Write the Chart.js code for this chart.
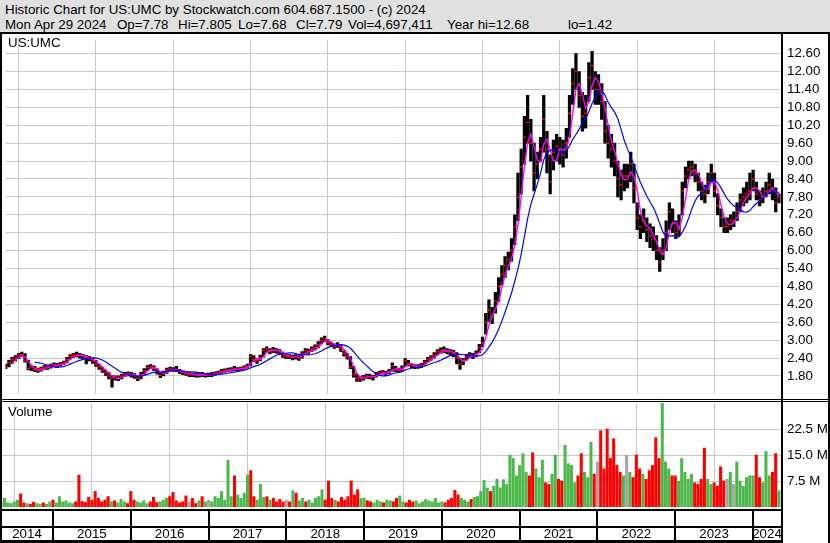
<!DOCTYPE html>
<html>
<head>
<meta charset="utf-8">
<title>US:UMC historic chart</title>
<script src="https://cdn.jsdelivr.net/npm/chart.js@4.4.1/dist/chart.umd.min.js"></script>
<style>
  body { margin: 0; background: #fff; }
  #wrap { position: relative; width: 830px; height: 543px; overflow: hidden;
          font-family: "Liberation Sans", Arial, sans-serif; color: #000; }
  #head { position: absolute; left: 0; top: 0; width: 830px; height: 34px; box-sizing: border-box;
          background: #e0e0e0; border-bottom: 2px solid #000; font-size: 13.33px; line-height: 15px; }
  #head span { position: absolute; white-space: pre; }
  canvas { position: absolute; left: 0; }
  #priceChart { top: 34px; }
  #volChart { top: 399px; }
  .tag { position: absolute; left: 8px; font-size: 13.33px; }
</style>
</head>
<body>
<div id="wrap">
  <div id="head">
    <span style="left:5px;top:2px">Historic Chart for US:UMC by Stockwatch.com 604.687.1500 - (c) 2024</span>
    <span style="left:5px;top:17px">Mon Apr 29 2024</span>
    <span style="left:117px;top:17px">Op=7.78</span>
    <span style="left:178px;top:17px">Hi=7.805</span>
    <span style="left:238px;top:17px">Lo=7.68</span>
    <span style="left:296px;top:17px">Cl=7.79</span>
    <span style="left:348px;top:17px">Vol=4,697,411</span>
    <span style="left:447px;top:17px">Year hi=12.68</span>
    <span style="left:568px;top:17px">lo=1.42</span>
  </div>
  <canvas id="priceChart" width="830" height="365"></canvas>
  <canvas id="volChart" width="830" height="144"></canvas>
  <div class="tag" style="top:35px">US:UMC</div>
  <div class="tag" style="top:404px">Volume</div>
</div>
<script>
// semi-monthly samples, first one is 2014 slot 8 (start of May), last one Apr 29 2024
const startYear = 2014, startSlot = 8, slotsPerYear = 24;

const closes = [
  2.10, 2.25, 2.35, 2.40, 2.50, 2.52, 2.30, 2.05, 2.10, 2.00, 1.98, 2.05, 2.10, 2.08, 2.15, 2.18, // 2014
  2.15, 2.20, 2.25, 2.35, 2.45, 2.50, 2.52, 2.48, 2.45, 2.40, 2.38, 2.30, 2.20, 2.10, 2.00, 1.90, 1.80, 1.72, 1.75, 1.70, 1.80, 1.85, 1.88, 1.85, // 2015
  1.80, 1.72, 1.85, 1.98, 2.08, 2.12, 2.05, 1.95, 1.82, 1.90, 2.00, 2.03, 2.02, 2.00, 1.95, 1.90, 1.88, 1.85, 1.85, 1.83, 1.82, 1.85, 1.82, 1.85, // 2016
  1.85, 1.88, 1.90, 1.95, 1.98, 2.00, 2.02, 2.05, 2.02, 2.05, 2.08, 2.12, 2.45, 2.35, 2.30, 2.40, 2.65, 2.70, 2.62, 2.68, 2.65, 2.60, 2.50, 2.45, // 2017
  2.45, 2.42, 2.45, 2.40, 2.55, 2.65, 2.62, 2.70, 2.75, 2.85, 3.00, 3.05, 2.92, 2.85, 2.80, 2.85, 2.70, 2.55, 2.45, 2.10, 1.85, 1.72, 1.70, 1.75, // 2018
  1.80, 1.78, 1.75, 1.85, 1.90, 1.92, 1.88, 1.95, 2.15, 2.00, 1.98, 2.05, 2.30, 2.20, 2.15, 2.10, 2.12, 2.15, 2.25, 2.35, 2.40, 2.50, 2.60, 2.65, // 2019
  2.68, 2.62, 2.60, 2.55, 2.40, 2.20, 2.30, 2.45, 2.50, 2.48, 2.55, 2.75, 2.90, 3.60, 4.00, 3.80, 4.30, 4.80, 5.20, 5.50, 5.70, 6.00, 6.80, 7.80, // 2020
  8.80, 9.80, 10.30, 9.60, 8.60, 8.90, 9.40, 10.40, 9.40, 8.30, 9.30, 9.50, 9.40, 9.20, 9.60, 10.60, 11.60, 12.00, 11.20, 10.50, 10.60, 11.80, 12.20, 11.40, // 2021
  11.40, 11.00, 10.00, 9.60, 9.40, 9.00, 8.40, 8.20, 8.50, 8.50, 8.90, 8.10, 7.10, 6.80, 7.00, 6.70, 6.50, 6.40, 6.00, 5.60, 6.00, 6.60, 7.30, 6.90, // 2022
  6.60, 6.70, 8.00, 8.50, 8.70, 8.80, 8.60, 8.30, 8.00, 7.90, 8.30, 8.60, 8.00, 7.50, 7.10, 6.80, 6.80, 7.00, 7.00, 7.30, 7.70, 7.80, 7.90, 8.00, // 2023
  8.40, 7.90, 7.70, 7.80, 8.00, 8.20, 8.10, 7.60, 7.79 // 2024
];

const highs = [
  2.20, 2.32, 2.42, 2.48, 2.56, 2.60, 2.55, 2.32, 2.15, 2.12, 2.06, 2.10, 2.16, 2.14, 2.20, 2.24,
  2.22, 2.26, 2.30, 2.42, 2.52, 2.56, 2.60, 2.56, 2.52, 2.48, 2.46, 2.40, 2.32, 2.20, 2.10, 2.00, 1.92, 1.82, 1.80, 1.80, 1.86, 1.92, 1.94, 1.92,
  1.88, 1.80, 1.92, 2.05, 2.15, 2.18, 2.14, 2.04, 1.90, 1.96, 2.06, 2.10, 2.08, 2.12, 2.02, 1.96, 1.94, 1.92, 1.90, 1.90, 1.88, 1.92, 1.88, 1.90,
  1.92, 1.94, 1.96, 2.02, 2.04, 2.06, 2.08, 2.12, 2.08, 2.10, 2.14, 2.20, 2.52, 2.48, 2.38, 2.50, 2.72, 2.78, 2.72, 2.76, 2.72, 2.68, 2.60, 2.54,
  2.52, 2.50, 2.52, 2.48, 2.62, 2.72, 2.70, 2.78, 2.84, 2.95, 3.08, 3.14, 3.02, 2.92, 2.88, 2.92, 2.86, 2.64, 2.56, 2.45, 2.12, 1.86, 1.78, 1.82,
  1.86, 1.86, 1.82, 1.92, 1.96, 1.98, 1.96, 2.02, 2.24, 2.12, 2.06, 2.14, 2.38, 2.32, 2.22, 2.18, 2.18, 2.22, 2.32, 2.42, 2.48, 2.58, 2.68, 2.74,
  2.78, 2.72, 2.68, 2.66, 2.58, 2.40, 2.38, 2.52, 2.58, 2.56, 2.64, 2.86, 3.10, 3.90, 4.35, 4.10, 4.60, 5.10, 5.50, 5.80, 5.95, 6.40, 7.20, 8.60,
  9.40, 10.50, 11.20, 10.40, 9.60, 9.30, 9.80, 11.20, 10.00, 9.20, 9.70, 9.90, 9.80, 9.70, 10.10, 11.20, 12.10, 12.60, 12.00, 11.30, 11.20, 12.30, 12.68, 12.00,
  11.90, 11.60, 11.00, 10.20, 9.90, 9.60, 9.00, 8.70, 8.90, 8.90, 9.30, 8.90, 7.60, 7.20, 7.40, 7.10, 6.90, 6.80, 6.50, 6.10, 6.40, 7.00, 7.60, 7.40,
  7.00, 7.20, 8.30, 8.80, 9.00, 9.00, 8.90, 8.60, 8.30, 8.20, 8.60, 8.90, 8.60, 7.90, 7.40, 7.10, 7.10, 7.20, 7.30, 7.60, 7.90, 8.10, 8.30, 8.60,
  8.70, 8.30, 8.00, 8.10, 8.30, 8.60, 8.40, 8.10, 7.90
];

const lows = [
  2.04, 2.10, 2.22, 2.30, 2.38, 2.44, 2.26, 2.00, 1.98, 1.94, 1.92, 1.96, 2.02, 2.02, 2.06, 2.10,
  2.08, 2.12, 2.18, 2.24, 2.36, 2.42, 2.44, 2.40, 2.36, 2.20, 2.30, 2.22, 2.12, 2.02, 1.92, 1.82, 1.70, 1.42, 1.66, 1.64, 1.70, 1.78, 1.80, 1.76,
  1.72, 1.64, 1.70, 1.84, 1.98, 2.04, 1.98, 1.86, 1.74, 1.80, 1.88, 1.96, 1.95, 1.94, 1.88, 1.84, 1.82, 1.78, 1.78, 1.76, 1.76, 1.78, 1.76, 1.78,
  1.78, 1.82, 1.84, 1.88, 1.92, 1.94, 1.96, 1.98, 1.96, 1.98, 2.02, 2.06, 2.14, 2.28, 2.22, 2.30, 2.44, 2.60, 2.54, 2.58, 2.56, 2.52, 2.42, 2.38,
  2.38, 2.34, 2.36, 2.32, 2.40, 2.56, 2.55, 2.62, 2.66, 2.74, 2.88, 2.96, 2.84, 2.78, 2.72, 2.76, 2.62, 2.46, 2.36, 2.04, 1.76, 1.62, 1.62, 1.66,
  1.72, 1.70, 1.66, 1.76, 1.84, 1.86, 1.82, 1.88, 1.96, 1.94, 1.92, 1.96, 2.12, 2.14, 2.08, 2.04, 2.05, 2.08, 2.16, 2.26, 2.32, 2.40, 2.50, 2.56,
  2.58, 2.54, 2.50, 2.44, 2.20, 2.02, 2.18, 2.34, 2.42, 2.38, 2.44, 2.58, 2.78, 3.20, 3.62, 3.55, 3.90, 4.30, 4.85, 5.10, 5.35, 5.65, 6.20, 7.00,
  7.90, 8.90, 9.60, 9.00, 8.00, 8.40, 9.00, 9.30, 8.60, 7.90, 8.70, 9.00, 8.90, 8.80, 9.10, 9.80, 10.90, 11.40, 10.80, 10.00, 10.10, 11.00, 11.40, 10.90,
  10.90, 10.40, 9.60, 9.10, 8.80, 8.50, 7.80, 7.70, 8.00, 8.10, 8.30, 7.60, 6.70, 6.40, 6.60, 6.30, 6.10, 6.00, 5.70, 5.30, 5.70, 6.00, 6.70, 6.60,
  6.40, 6.50, 7.20, 8.10, 8.40, 8.50, 8.30, 8.00, 7.70, 7.60, 7.90, 8.30, 7.80, 7.20, 6.80, 6.60, 6.60, 6.70, 6.80, 7.00, 7.30, 7.50, 7.60, 7.70,
  8.00, 7.70, 7.50, 7.60, 7.80, 7.90, 7.70, 7.30, 7.60
];

// volume in millions of shares
const volumes = [
  1.5, 2.5, 1.2, 1.0, 1.5, 2.0, 3.8, 1.2, 1.0, 0.8, 1.4, 1.0, 0.8, 1.2, 0.8, 1.5,
  2.0, 1.2, 3.0, 1.5, 1.8, 1.2, 1.0, 1.5, 9.2, 1.6, 1.3, 2.8, 2.0, 4.5, 2.5, 1.5, 2.0, 3.0, 1.5, 1.8, 1.2, 2.2, 1.5, 1.0,
  4.5, 2.0, 1.5, 1.2, 1.8, 1.0, 1.5, 2.8, 1.3, 1.5, 2.0, 2.5, 3.0, 4.2, 1.8, 1.2, 1.5, 3.2, 1.5, 2.5, 1.0, 1.8, 3.0, 1.5,
  2.0, 1.5, 3.0, 2.5, 4.5, 2.0, 13.5, 3.0, 9.0, 3.5, 2.5, 4.0, 9.2, 10.5, 3.0, 2.0, 6.5, 2.8, 3.0, 2.0, 2.5, 1.5, 2.2, 1.5,
  2.0, 1.5, 4.7, 4.0, 1.8, 2.5, 1.5, 2.0, 1.2, 2.5, 3.0, 5.0, 2.0, 7.5, 2.5, 2.0, 1.5, 2.8, 2.0, 3.0, 7.5, 3.5, 5.0, 2.5,
  2.5, 1.8, 1.5, 1.2, 2.0, 1.5, 1.2, 2.0, 1.8, 1.5, 2.5, 3.2, 1.5, 1.2, 2.0, 1.5, 1.8, 1.0, 1.5, 2.2, 1.8, 1.5, 2.5, 1.2,
  1.5, 1.2, 2.0, 2.5, 4.8, 3.5, 2.5, 2.0, 1.5, 2.2, 2.8, 3.0, 4.5, 7.7, 5.5, 4.5, 6.0, 8.0, 5.5, 7.9, 6.5, 15.0, 14.0, 9.0,
  12.0, 15.4, 10.0, 9.0, 15.7, 11.0, 8.5, 13.5, 7.0, 6.5, 9.5, 15.0, 8.0, 7.5, 17.8, 12.5, 12.0, 7.0, 9.0, 15.4, 10.0, 8.5, 18.7, 9.5,
  13.0, 22.0, 11.0, 22.5, 14.0, 19.7, 12.0, 10.0, 9.0, 15.0, 10.0, 8.5, 15.0, 11.0, 9.5, 8.0, 10.5, 12.0, 20.0, 14.0, 30.5, 13.0, 11.0, 9.0,
  9.0, 7.5, 14.0, 10.0, 8.0, 9.5, 7.0, 6.5, 8.0, 17.0, 8.0, 6.5, 7.0, 6.0, 11.6, 7.5, 8.0, 10.0, 6.5, 13.0, 7.5, 6.0, 8.5, 9.0,
  9.0, 15.0, 8.5, 7.0, 16.0, 9.0, 10.0, 15.4, 4.7
];

const priceTicks = [1.80, 2.40, 3.00, 3.60, 4.20, 4.80, 5.40, 6.00, 6.60, 7.20, 7.80, 8.40, 9.00, 9.60, 10.20, 10.80, 11.40, 12.00, 12.60];
const volumeTicks = [7.5, 15.0, 22.5];
const yearMarks = [2015, 2016, 2017, 2018, 2019, 2020, 2021, 2022, 2023, 2024];
const yearLabels = ['2014', '2015', '2016', '2017', '2018', '2019', '2020', '2021', '2022', '2023', '2024'];

const X_MIN = 2014.331, X_MAX = 2024.36;
const GRID = '#c8c8c8';
const FONT = { family: '"Liberation Sans", Arial, sans-serif', size: 13.33 };

const when = closes.map((_, i) => startYear + (startSlot + i) / slotsPerYear);

function movingAvg(n) {
  const out = [];
  for (let i = n - 1; i < closes.length; i++) {
    let s = 0;
    for (let j = i - n + 1; j <= i; j++) s += closes[j];
    out.push({ x: when[i], y: s / n });
  }
  return out;
}

const volColors = closes.map((c, i) => {
  if (i === 0 || c === closes[i - 1]) return '#a6a6a6';
  return c > closes[i - 1] ? '#4cb84c' : '#ff0000';
});

// keep chart area where the frame expects it: no label overhang padding
const noPad = s => { s.paddingLeft = 0; s.paddingRight = 0; s.paddingTop = 0; s.paddingBottom = 0; };

const yearGridAxis = () => ({
  type: 'linear', min: X_MIN, max: X_MAX, offset: false,
  afterBuildTicks: s => { s.ticks = yearMarks.map(v => ({ value: v })); },
  ticks: { display: false },
  grid: { color: GRID, drawTicks: false },
  border: { display: false },
  afterFit: s => { s.height = 0; noPad(s); }
});

// ---- frame lines (outer borders, double rule, year boxes) ----
const priceFrame = {
  id: 'priceFrame',
  afterDraw(chart) {
    const { ctx, height, chartArea } = chart;
    ctx.save();
    ctx.fillStyle = '#000';
    ctx.fillRect(0, 0, 2, height);
    ctx.fillRect(chartArea.right, 0, 2, height);
    ctx.fillRect(828, 0, 2, height);
    ctx.restore();
  }
};

const volFrame = {
  id: 'volFrame',
  afterDraw(chart) {
    const { ctx, height, chartArea } = chart;
    const xs = chart.scales.x;
    const r = chartArea.right;
    ctx.save();
    ctx.fillStyle = '#000';
    ctx.fillRect(0, 0, 830, 1);
    ctx.fillRect(0, 2, 830, 1);
    ctx.fillRect(0, 0, 2, height);
    ctx.fillRect(r, 0, 2, height);
    ctx.fillRect(828, 0, 2, height);
    ctx.fillRect(0, 110, r + 2, 2);
    ctx.fillRect(0, 127, r + 2, 2);
    ctx.fillRect(0, 141, r + 2, 3);
    yearMarks.forEach(y => {
      const px = Math.round(xs.getPixelForValue(y));
      ctx.fillRect(px - 1, 112, 2, 15);
      ctx.fillRect(px - 1, 129, 2, 12);
    });
    ctx.restore();
  }
};

// ---- Price panel: bars, closes, moving averages ----
new Chart(document.getElementById('priceChart'), {
  type: 'bar',
  data: {
    datasets: [
      { type: 'line', data: movingAvg(10), borderColor: '#0000ff', borderWidth: 1.2, pointRadius: 0, order: 1 },
      { type: 'line', data: movingAvg(3), borderColor: '#ff00ff', borderWidth: 1.4, pointRadius: 0, order: 2 },
      { type: 'line', data: when.map((t, i) => ({ x: t, y: closes[i] })), showLine: false,
        pointStyle: 'line', pointRadius: 1.5, borderColor: '#ff0000', borderWidth: 1.5, order: 3 },
      { type: 'bar', data: when.map((t, i) => ({ x: t, y: [lows[i], highs[i]] })),
        backgroundColor: '#000', barThickness: 2.6, order: 4 }
    ]
  },
  options: {
    responsive: false, animation: false, devicePixelRatio: 1,
    layout: { padding: { left: 1, top: 1, bottom: 1, right: 0 } },
    plugins: { legend: { display: false }, tooltip: { enabled: false } },
    scales: {
      x: yearGridAxis(),
      y: {
        position: 'right', min: 1.212, max: 13.074,
        afterBuildTicks: s => { s.ticks = priceTicks.map(v => ({ value: v })); },
        ticks: { padding: 6, color: '#000', font: FONT, autoSkip: false, callback: v => v.toFixed(2) },
        grid: { color: GRID, drawTicks: false },
        border: { display: false },
        afterFit: s => { s.width = 49; noPad(s); }
      }
    }
  },
  plugins: [priceFrame]
});

// ---- Volume panel ----
new Chart(document.getElementById('volChart'), {
  type: 'bar',
  data: {
    datasets: [{
      data: when.map((t, i) => ({ x: t, y: volumes[i] })),
      backgroundColor: volColors, barThickness: 2.4
    }]
  },
  options: {
    responsive: false, animation: false, devicePixelRatio: 1,
    layout: { padding: { left: 1, top: 4, bottom: 0, right: 0 } },
    plugins: { legend: { display: false }, tooltip: { enabled: false } },
    scales: {
      x: yearGridAxis(),
      xl: {
        type: 'linear', position: 'bottom', min: X_MIN, max: X_MAX, offset: false,
        afterBuildTicks: s => {
          const edges = [X_MIN, ...yearMarks, X_MAX];
          s.ticks = yearLabels.map((_, i) => ({ value: (edges[i] + edges[i + 1]) / 2 }));
        },
        ticks: { padding: 19, color: '#000', font: FONT, maxRotation: 0, autoSkip: false,
                 callback: (v, i) => yearLabels[i] },
        grid: { display: false, drawTicks: false },
        border: { display: false },
        afterFit: s => { s.height = 36; noPad(s); }
      },
      y: {
        position: 'right', min: 0, max: 30,
        afterBuildTicks: s => { s.ticks = volumeTicks.map(v => ({ value: v })); },
        ticks: { padding: 6, color: '#000', font: FONT, autoSkip: false, callback: v => v.toFixed(1) + ' M' },
        grid: { color: GRID, drawTicks: false },
        border: { display: false },
        afterFit: s => { s.width = 49; noPad(s); }
      }
    }
  },
  plugins: [volFrame]
});
</script>
</body>
</html>
